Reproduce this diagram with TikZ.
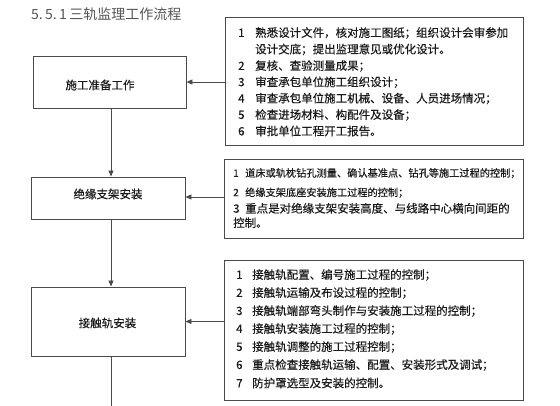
\documentclass[tikz,border=0pt]{standalone}
\usepackage{fontspec}
\setmainfont{Noto Sans CJK SC}
\newfontfamily\heavy{Noto Sans CJK SC}[FakeBold=0.3]
\usetikzlibrary{arrows.meta}
\definecolor{boxc}{HTML}{4A4A4A}
\definecolor{txtc}{HTML}{1A1A1A}
\definecolor{ttlc}{HTML}{555555}
\tikzset{
  stepbox/.style={draw=boxc,line width=0.9pt,rectangle,inner sep=0pt},
  steptext/.style={inner sep=0pt,text=txtc,font=\heavy\fontsize{11.5}{14}\selectfont},
  infobox/.style={draw=boxc,line width=0.9pt,rectangle,inner sep=0pt},
  item/.style={anchor=west,inner sep=0pt,text=txtc,font=\heavy\fontsize{11.5}{14}\selectfont},
  itemsm/.style={anchor=west,inner sep=0pt,text=txtc,font=\heavy\fontsize{10.2}{13}\selectfont},
  conn/.style={draw=boxc,line width=0.9pt,-{Triangle[length=6pt,width=5pt]}},
  plain/.style={draw=boxc,line width=0.9pt}
}
\newcommand{\numA}[1]{\makebox[17pt][l]{#1}}
\newcommand{\numB}[1]{\makebox[12pt][l]{#1}}
\newcommand{\numC}[1]{\makebox[16pt][l]{#1}}
\begin{document}
\begin{tikzpicture}[x=1pt,y=-1pt]
\useasboundingbox (0,0) rectangle (560,406);
\fill[white] (0,0) rectangle (560,406);

% title
\node[anchor=west,inner sep=0pt,text=ttlc,font=\fontsize{14}{16}\selectfont] (title) at (31,14) {5.\,5.\,1\,三轨监理工作流程};

% left process boxes
\node[stepbox,minimum width=153pt,minimum height=52pt] (l1) at (109.5,82) {};
\node[steptext] (l1t) at (100,85) {施工准备工作};
\node[stepbox,minimum width=154pt,minimum height=42pt] (l2) at (108,198) {};
\node[steptext] (l2t) at (108,194) {绝缘支架安装};
\node[stepbox,minimum width=154pt,minimum height=69pt] (l3) at (108,321.5) {};
\node[steptext] (l3t) at (107.5,323) {接触轨安装};
\coordinate (bot) at (111,406);

% right boxes
\node[infobox,minimum width=298pt,minimum height=128pt] (r1) at (374,81) {};
\node[infobox,minimum width=299pt,minimum height=79pt] (r2) at (373.5,198.5) {};
\node[infobox,minimum width=299pt,minimum height=140pt] (r3) at (373.5,330) {};

% box 1 text
\node[item] (r1a) at (238,33) {\numA{1}熟悉设计文件，核对施工图纸；组织设计会审参加};
\node[item] (r1b) at (255,49.5) {设计交底；提出监理意见或优化设计。};
\node[item] (r1c) at (238,66) {\numA{2}复核、查验测量成果；};
\node[item] (r1d) at (238,82.3) {\numA{3}审查承包单位施工组织设计；};
\node[item] (r1e) at (238,98.6) {\numA{4}审查承包单位施工机械、设备、人员进场情况；};
\node[item] (r1f) at (238,115) {\numA{5}检查进场材料、构配件及设备；};
\node[item] (r1g) at (238,131) {\numA{6}审批单位工程开工报告。};

% box 2 text
\node[itemsm] (r2a) at (233,173.3) {\numB{1}道床或轨枕钻孔测量、确认基准点、钻孔等施工过程的控制；};
\node[itemsm] (r2b) at (233,192.7) {\numB{2}绝缘支架底座安装施工过程的控制；};
\node[item] (r2c) at (233,208.3) {\numB{3}重点是对绝缘支架安装高度、与线路中心横向间距的};
\node[item] (r2d) at (233,222.7) {控制。};

% box 3 text
\node[item] (r3a) at (236,275) {\numC{1}接触轨配置、编号施工过程的控制；};
\node[item] (r3b) at (236,293) {\numC{2}接触轨运输及布设过程的控制；};
\node[item] (r3c) at (236,311) {\numC{3}接触轨端部弯头制作与安装施工过程的控制；};
\node[item] (r3d) at (236,329) {\numC{4}接触轨安装施工过程的控制；};
\node[item] (r3e) at (236,347) {\numC{5}接触轨调整的施工过程控制；};
\node[item] (r3f) at (236,365) {\numC{6}重点检查接触轨运输、配置、安装形式及调试；};
\node[item] (r3g) at (236,383) {\numC{7}防护罩选型及安装的控制。};

% connectors
\draw[conn] ([xshift=1.5pt]l1.south) -- ([xshift=1.5pt]l1.south |- l2.north);
\draw[conn] ([xshift=3pt]l2.south) -- ([xshift=3pt]l2.south |- l3.north);
\draw[plain] ([xshift=3pt]l3.south) -- (bot);
\draw[conn] (r1.west |- l1.east) -- (l1.east);
\draw[conn] ([yshift=1pt]r2.west |- l2.east) -- ([yshift=1pt]l2.east);
\draw[conn] (r3.west |- l3.east) -- (l3.east);
\end{tikzpicture}
\end{document}
